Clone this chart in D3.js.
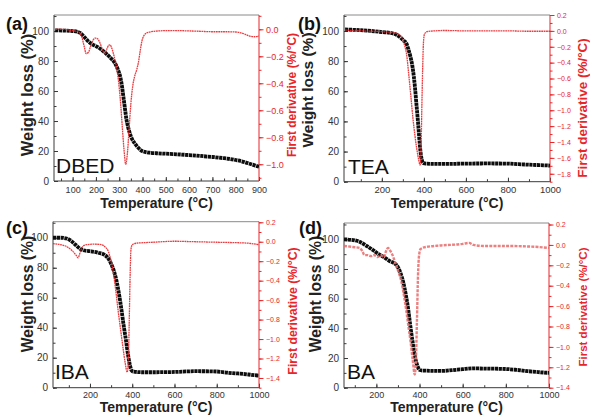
<!DOCTYPE html>
<html><head><meta charset="utf-8">
<script src="https://cdn.jsdelivr.net/npm/d3@7/dist/d3.min.js"></script>
<style>
body{margin:0;background:#fff;}
svg{display:block;font-family:"Liberation Sans",Arial,sans-serif;}
</style></head>
<body><svg id="c" width="590" height="417"></svg>
<script>
// ---------- data ----------
const panelLetters = ["(a)", "(b)", "(c)", "(d)"];
const sampleNames = ["DBED", "TEA", "IBA", "BA"];

// (a) DBED
const tempW_DBED = [25,60,100,120,135,150,165,180,200,220,240,260,280,295,305,312,318,324,331,338,345,355,367,380,395,410,430,460,500,550,600,650,700,750,800,840,870,900];
const weight_DBED = [100.5,100.3,100,99.5,98.5,96,93.5,91.5,90,88,85.5,82.5,79,74,69,63,56,49,41,36,32,28,25,22.5,20.3,19.4,18.9,18.5,18.2,17.8,17.3,16.7,16,15.2,14,12.5,11,9.5];
const tempD_DBED = [25,60,100,125,140,150,158,168,178,188,197,207,217,228,238,246,254,260,268,278,288,298,306,313,320,328,335,342,350,358,366,375,383,390,397,405,420,450,500,550,600,650,700,750,800,830,860,880,900];
const deriv_DBED = [0,0,-0.01,-0.02,-0.06,-0.13,-0.18,-0.17,-0.12,-0.08,-0.065,-0.07,-0.1,-0.15,-0.18,-0.15,-0.12,-0.115,-0.14,-0.2,-0.28,-0.4,-0.55,-0.72,-0.88,-1.0,-0.92,-0.75,-0.55,-0.42,-0.35,-0.3,-0.24,-0.16,-0.09,-0.05,-0.025,-0.015,-0.01,-0.01,-0.012,-0.015,-0.018,-0.018,-0.02,-0.03,-0.05,-0.055,-0.05];

// (b) TEA
const tempW_TEA = [25,100,150,200,250,270,290,305,316,326,336,345,352,358,363,368,373,378,383,388,393,398,410,450,500,600,700,800,850,900,950,1000];
const weight_TEA = [101,100.5,100,99.3,98.5,97.5,95.5,93.5,92,88,83,77,70,62,54,46,38,29,21,16,13.2,12.3,12,11.8,11.8,12,12.1,12,11.6,11.3,11,10.7];
const tempD_TEA = [25,100,200,250,270,285,298,308,318,328,338,348,358,367,375,382,386,390,394,398,403,415,450,500,600,700,800,900,1000];
const deriv_TEA = [0.01,0,-0.01,-0.02,-0.03,-0.05,-0.1,-0.18,-0.3,-0.55,-0.82,-1.1,-1.33,-1.5,-1.62,-1.69,-1.55,-1.0,-0.5,-0.15,-0.04,-0.01,0,0.005,0,0,0,-0.005,-0.005];

// (c) IBA
const tempW_IBA = [25,60,90,110,130,150,165,200,240,270,290,302,315,326,338,350,360,371,380,389,397,405,450,500,600,700,800,850,900,950,1000];
const weight_IBA = [100,100,99.5,98,95.5,93,91.8,91,90,88.5,85.5,82,77,71,62,51,41,31,22,15,11.5,10.7,10.3,10.3,10.5,11,10.8,10,9.5,8.8,8];
const tempD_IBA = [25,60,90,115,135,144,152,160,170,185,220,255,270,287,300,310,322,334,346,357,367,376,382,386,390,394,400,420,500,600,700,800,900,950,1000];
const deriv_IBA = [-0.02,-0.03,-0.05,-0.09,-0.14,-0.165,-0.12,-0.07,-0.04,-0.03,-0.025,-0.03,-0.05,-0.1,-0.2,-0.31,-0.5,-0.72,-0.92,-1.1,-1.25,-1.34,-1.2,-0.8,-0.35,-0.08,-0.03,-0.015,-0.005,0.005,0,-0.005,-0.01,-0.015,-0.03];

// (d) BA
const tempW_BA = [50,100,122,150,184,210,231,260,293,310,324,336,347,358,370,380,389,401,420,500,550,600,650,700,800,850,900,950,1000];
const weight_BA = [100,99.3,98.4,96,92.8,90,88.3,85.5,82.7,78,71.4,63,53.4,41,28.8,20,15.3,11.9,11.5,11.3,11.8,12.5,13,12.9,12.6,12,11.2,10.5,10];
const tempD_BA = [50,90,122,135,145,160,175,190,205,220,235,245,254,262,275,285,300,316,328,339,350,358,368,378,383,388,393,398,405,430,500,600,630,650,700,800,900,950,1000];
const deriv_BA = [-0.01,-0.02,-0.03,-0.06,-0.1,-0.1,-0.11,-0.1,-0.12,-0.1,-0.12,-0.06,-0.03,-0.05,-0.1,-0.16,-0.25,-0.36,-0.5,-0.65,-0.82,-0.94,-1.12,-1.27,-1.15,-0.75,-0.3,-0.1,-0.04,-0.02,-0.005,0.01,0.02,0,-0.01,-0.01,-0.015,-0.02,-0.03];

// tick values
const xTicksA = [100,200,300,400,500,600,700,800,900];
const xTicksB = [200,400,600,800,1000];
const yLeftTicks = [0,20,40,60,80,100];
const yRightTicksA = [0,-0.2,-0.4,-0.6,-0.8,-1.0];
const yRightTicksB = [0.2,0,-0.2,-0.4,-0.6,-0.8,-1.0,-1.2,-1.4,-1.6,-1.8];
const yRightTicksCD = [0.2,0,-0.2,-0.4,-0.6,-0.8,-1.0,-1.2,-1.4];

// ---------- drawing ----------
const svg = d3.select("#c");
const RED = "#e8262a";
const AX = "#3a3a3a";

const panels = [
  {L:54,R:259,T:15,B:181, xd:[20,900], yl:[0,110.7], yr:[-1.124,0.106],
   xt:xTicksA, xMinor:50, rt:yRightTicksA, tw:tempW_DBED, w:weight_DBED, td:tempD_DBED, d:deriv_DBED,
   letter:panelLetters[0], name:sampleNames[0], lx:6, ly:30, nx:56, ny:173,
   wlX:27, wlY:95, wlSize:16.5, rtX:292, rtY:95, rtSize:12, rtFont:9, ltFont:10, btFont:9, bPad:6, txY:208, pink:false},
  {L:344,R:550,T:15,B:181.7, xd:[20,1000], yl:[0,110.6], yr:[-1.9,0.2],
   xt:xTicksB, xMinor:100, rt:yRightTicksB, tw:tempW_TEA, w:weight_TEA, td:tempD_TEA, d:deriv_TEA,
   letter:panelLetters[1], name:sampleNames[1], lx:298, ly:30, nx:348, ny:174,
   wlX:307, wlY:90, wlSize:15.5, rtX:582, rtY:108, rtSize:13.5, rtFont:7, ltFont:10, btFont:9.5, bPad:5, txY:208, pink:false},
  {L:53,R:259,T:221.7,B:387.7, xd:[25,1000], yl:[0,110.7], yr:[-1.5,0.206],
   xt:xTicksB, xMinor:100, rt:yRightTicksCD, tw:tempW_IBA, w:weight_IBA, td:tempD_IBA, d:deriv_IBA,
   letter:panelLetters[2], name:sampleNames[2], lx:6, ly:234, nx:55, ny:379,
   wlX:27, wlY:294, wlSize:15.7, rtX:293, rtY:311, rtSize:12.3, rtFont:7, ltFont:10, btFont:9, bPad:3.5, txY:412, pink:false},
  {L:344,R:549,T:223,B:387.7, xd:[50,1000], yl:[0,111], yr:[-1.4,0.215],
   xt:xTicksB, xMinor:100, rt:yRightTicksCD, tw:tempW_BA, w:weight_BA, td:tempD_BA, d:deriv_BA,
   letter:panelLetters[3], name:sampleNames[3], lx:299, ly:234, nx:347, ny:379,
   wlX:315, wlY:294, wlSize:15.7, rtX:583, rtY:307, rtSize:11.5, rtFont:7, ltFont:10, btFont:9, bPad:3.5, txY:412, pink:true}
];

const fmtR = v => (Math.abs(v) < 1e-9 ? "0.0" : (v < 0 ? "\u2212" : "") + Math.abs(v).toFixed(1));

panels.forEach((p, i) => {
  const g = svg.append("g");
  const x = d3.scaleLinear().domain(p.xd).range([p.L, p.R]);
  const yL = d3.scaleLinear().domain(p.yl).range([p.B, p.T]);
  const yR = d3.scaleLinear().domain(p.yr).range([p.B, p.T]);

  const clipId = "clip" + i;
  svg.append("clipPath").attr("id", clipId).append("rect")
    .attr("x", p.L).attr("y", p.T - 2).attr("width", p.R - p.L).attr("height", p.B - p.T + 4);

  // top frame
  g.append("line").attr("x1", p.L).attr("x2", p.R).attr("y1", p.T).attr("y2", p.T)
    .attr("stroke", "#8a8a8a").attr("stroke-width", 1);

  // bottom axis
  const minorX = d3.range(Math.ceil(p.xd[0] / p.xMinor) * p.xMinor, p.xd[1] + 1, p.xMinor);
  const bx = g.append("g").attr("transform", `translate(0,${p.B})`);
  bx.call(d3.axisBottom(x).tickValues(minorX).tickSize(-2.5).tickFormat(""))
    .call(s => s.select(".domain").remove()).selectAll("line").attr("stroke", AX);
  const bx2 = g.append("g").attr("transform", `translate(0,${p.B})`);
  bx2.call(d3.axisBottom(x).tickValues(p.xt).tickSize(-4).tickPadding(p.bPad).tickFormat(d3.format("d")))
    .call(s => s.select(".domain").attr("stroke", AX).attr("d", `M${p.L},0H${p.R}`));
  bx2.selectAll("line").attr("stroke", AX);
  bx2.selectAll("text").attr("font-size", p.btFont).attr("fill", "#333").attr("font-family", "Liberation Sans, Arial");

  // left axis
  const minorY = d3.range(0, 111, 10);
  const lx = g.append("g").attr("transform", `translate(${p.L},0)`);
  lx.call(d3.axisLeft(yL).tickValues(minorY).tickSize(-2.5).tickFormat(""))
    .call(s => s.select(".domain").remove()).selectAll("line").attr("stroke", AX);
  const lx2 = g.append("g").attr("transform", `translate(${p.L},0)`);
  lx2.call(d3.axisLeft(yL).tickValues(yLeftTicks).tickSize(-4).tickPadding(5))
    .call(s => s.select(".domain").attr("stroke", AX).attr("d", `M0,${p.T}V${p.B}`));
  lx2.selectAll("line").attr("stroke", AX);
  lx2.selectAll("text").attr("font-size", p.ltFont).attr("fill", "#333").attr("font-family", "Liberation Sans, Arial");

  // right axis (red)
  const rMinor = d3.range(Math.ceil(p.yr[0] * 10) / 10, p.yr[1] + 1e-6, 0.1).map(v => Math.round(v * 10) / 10);
  const rx = g.append("g").attr("transform", `translate(${p.R},0)`);
  rx.call(d3.axisRight(yR).tickValues(rMinor).tickSize(2.5).tickFormat(""))
    .call(s => s.select(".domain").remove()).selectAll("line").attr("stroke", RED);
  const rx2 = g.append("g").attr("transform", `translate(${p.R},0)`);
  rx2.call(d3.axisRight(yR).tickValues(p.rt).tickSize(4.5).tickPadding(2.5).tickFormat(fmtR))
    .call(s => s.select(".domain").attr("stroke", RED).attr("d", `M0,${p.T}V${p.B}`));
  rx2.selectAll("line").attr("stroke", RED);
  rx2.selectAll("text").attr("font-size", p.rtFont).attr("fill", RED).attr("font-family", "Liberation Sans, Arial");

  // curves
  const plot = g.append("g").attr("clip-path", `url(#${clipId})`);
  const wData = p.tw.map((t, k) => [t, p.w[k]]);
  const dData = p.td.map((t, k) => [t, p.d[k]]);
  plot.append("path").datum(wData)
    .attr("d", d3.line().x(d => x(d[0])).y(d => yL(d[1])).curve(d3.curveMonotoneX))
    .attr("fill", "none").attr("stroke", "#0d0d0d").attr("stroke-width", 3.8)
    .attr("stroke-dasharray", "3.2,0.6");
  if (p.pink) {
    plot.append("path").datum(dData)
      .attr("d", d3.line().x(d => x(d[0])).y(d => yR(d[1])).curve(d3.curveMonotoneX))
      .attr("fill", "none").attr("stroke", "#e86a6a").attr("stroke-opacity", 0.85).attr("stroke-width", 2.4)
      .attr("stroke-dasharray", "3,1.2");
  } else {
    plot.append("path").datum(dData)
      .attr("d", d3.line().x(d => x(d[0])).y(d => yR(d[1])).curve(d3.curveMonotoneX))
      .attr("fill", "none").attr("stroke", RED).attr("stroke-opacity", 0.9).attr("stroke-width", 1.3)
      .attr("stroke-dasharray", "1.8,0.6");
  }

  // titles
  g.append("text").attr("x", (p.L + p.R) / 2).attr("y", p.txY).attr("text-anchor", "middle")
    .attr("font-size", 14).attr("font-weight", "bold").attr("fill", "#222")
    .text("Temperature (\u00B0C)");
  g.append("text").attr("transform", `translate(${p.wlX},${p.wlY}) rotate(-90)`)
    .attr("text-anchor", "middle").attr("dominant-baseline", "central")
    .attr("font-size", p.wlSize).attr("font-weight", "bold").attr("fill", "#222")
    .text("Weight loss (%)");
  g.append("text").attr("transform", `translate(${p.rtX},${p.rtY}) rotate(-90)`)
    .attr("text-anchor", "middle").attr("dominant-baseline", "central")
    .attr("font-size", p.rtSize).attr("font-weight", "bold").attr("fill", RED)
    .text("First derivative (%/\u00B0C)");
  g.append("text").attr("x", p.lx).attr("y", p.ly).attr("font-size", 18).attr("font-weight", "bold")
    .attr("fill", "#111").text(p.letter);
  g.append("text").attr("x", p.nx).attr("y", p.ny).attr("font-size", 21)
    .attr("fill", "#111").text(p.name);
});
</script>
</body></html>
